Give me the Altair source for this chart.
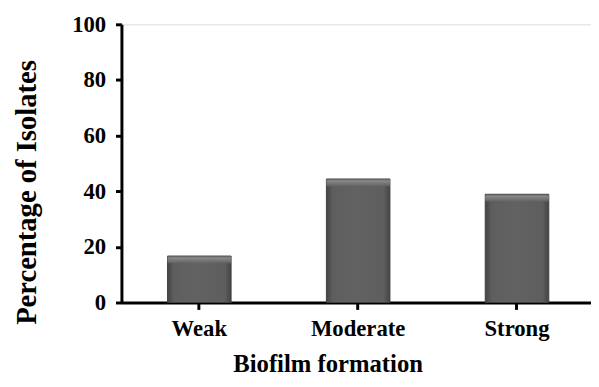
import altair as alt
import pandas as pd

categories = ["Weak", "Moderate", "Strong"]
percentages = [16.7, 44.4, 38.9]
bevel_depth = [2.6, 2.6, 2.6]

df = pd.DataFrame({"cat": categories, "pct": percentages})
df["bevel_low"] = [p - b for p, b in zip(percentages, bevel_depth)]

FONT = "Liberation Serif"

x_enc = alt.X(
    "cat:N",
    sort=categories,
    scale=alt.Scale(paddingInner=0.6, paddingOuter=0.278, align=0.522),
    axis=alt.Axis(
        title="Biofilm formation",
        labelAngle=0,
        labelFont=FONT, labelFontSize=23, labelFontWeight="bold", labelColor="black",
        labelPadding=8,
        titleFont=FONT, titleFontSize=25, titleFontWeight="bold", titleColor="black",
        titleX=209, titleY=70, titleBaseline="alphabetic", titleAlign="center",
        domainColor="black", domainWidth=3, tickColor="black", tickWidth=3, tickSize=7,
        grid=False,
    ),
)
y_scale = alt.Scale(domain=[0, 100], nice=False)
y_axis = alt.Axis(
    title="Percentage of Isolates",
    values=[0, 20, 40, 60, 80, 100],
    labelFont=FONT, labelFontSize=23, labelFontWeight="bold", labelColor="black",
    labelPadding=10,
    titleFont=FONT, titleFontSize=29, titleFontWeight="bold", titleColor="black",
    titleAngle=270, titleX=-96, titleY=170, titleBaseline="middle", titleAlign="center",
    domainColor="black", domainWidth=3, tickColor="black", tickWidth=3, tickSize=6,
    grid=False,
)

body = alt.Chart(df).mark_bar(
    color=alt.Gradient(
        gradient="linear", x1=0, x2=1, y1=0, y2=0,
        stops=[
            alt.GradientStop(offset=0, color="#444444"),
            alt.GradientStop(offset=0.1, color="#5e5e5e"),
            alt.GradientStop(offset=0.5, color="#626262"),
            alt.GradientStop(offset=0.9, color="#5e5e5e"),
            alt.GradientStop(offset=1, color="#444444"),
        ],
    ),
    stroke="#404040", strokeWidth=1,
).encode(
    x=x_enc,
    y=alt.Y("pct:Q", scale=y_scale, axis=y_axis),
)

bevel = alt.Chart(df).mark_bar(
    color=alt.Gradient(
        gradient="linear", x1=0, x2=0, y1=0, y2=1,
        stops=[
            alt.GradientStop(offset=0, color="#5a5a5a"),
            alt.GradientStop(offset=0.25, color="#8e8e8e"),
            alt.GradientStop(offset=1, color="#636363"),
        ],
    ),
    opacity=0.9,
).encode(
    x=alt.X("cat:N", sort=categories, bandPosition=0),
    y=alt.Y("pct:Q", scale=y_scale),
    y2="bevel_low:Q",
)

chart = alt.layer(body, bevel).properties(
    width=476, height=282,
    autosize=alt.AutoSizeParams(type="none"),
    padding={"left": 115, "top": 14, "right": 0, "bottom": 75},
).configure_view(stroke=None).configure(background="white")

chart.save("out.html", embed_options={"renderer": "svg", "actions": False})
